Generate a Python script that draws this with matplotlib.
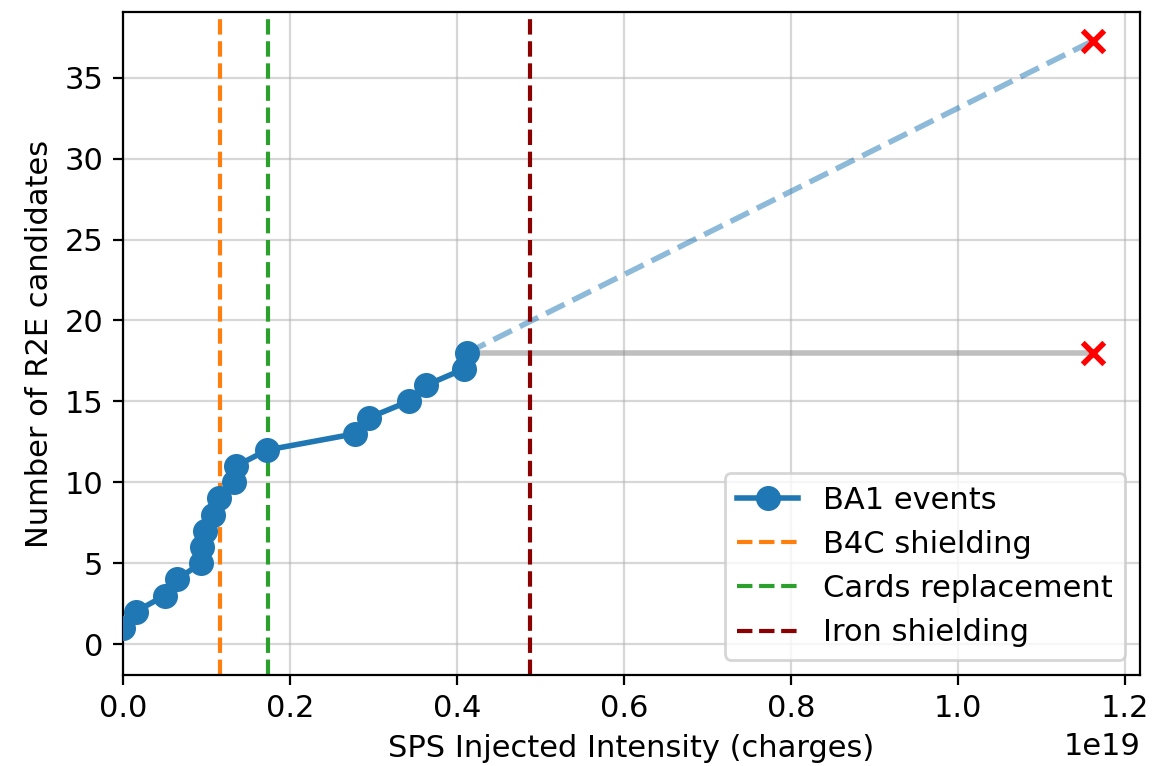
import matplotlib
matplotlib.use("Agg")
import matplotlib.pyplot as plt
import numpy as np

# Data (x in units of 1e19 charges)
intensity = [0.0, 0.015, 0.050, 0.065, 0.093, 0.095, 0.098, 0.108, 0.115,
             0.133, 0.135, 0.173, 0.278, 0.295, 0.342, 0.363, 0.408, 0.412]
events = list(range(1, 19))
proj_x = 1.162
proj_high = 37.3
proj_low = 18
b4c_x = 0.116
cards_x = 0.174
iron_x = 0.487
scale = 1e19

plt.rcParams['font.size'] = 11

fig, ax = plt.subplots(figsize=(5.835, 3.83), dpi=200)
fig.subplots_adjust(left=0.1054, right=0.977, top=0.984, bottom=0.119)

xs = np.array(intensity) * scale
ax.plot(xs, events, 'o-', color='tab:blue', label='BA1 events', zorder=3,
        markersize=8, linewidth=2)
ax.plot([xs[-1], proj_x * scale], [events[-1], proj_high], '--', color='tab:blue',
        alpha=0.5, linewidth=2)
ax.plot([xs[-1], proj_x * scale], [events[-1], proj_low], '-', color='gray',
        alpha=0.5, linewidth=2)
ax.scatter([proj_x * scale, proj_x * scale], [proj_high, proj_low], marker='x',
           color='red', zorder=4, s=60, linewidths=2)

ax.axvline(b4c_x * scale, color='tab:orange', linestyle='--', label='B4C shielding')
ax.axvline(cards_x * scale, color='tab:green', linestyle='--', label='Cards replacement')
ax.axvline(iron_x * scale, color='darkred', linestyle='--', label='Iron shielding')

ax.set_xlim(0, 1.218 * scale)
ax.set_ylim(-1.9, 39.05)
ax.grid(True, alpha=0.5)
ax.set_xlabel('SPS Injected Intensity (charges)')
ax.set_ylabel('Number of R2E candidates')
ax.legend(loc='lower right')

fig.savefig('out.png', dpi=200)
